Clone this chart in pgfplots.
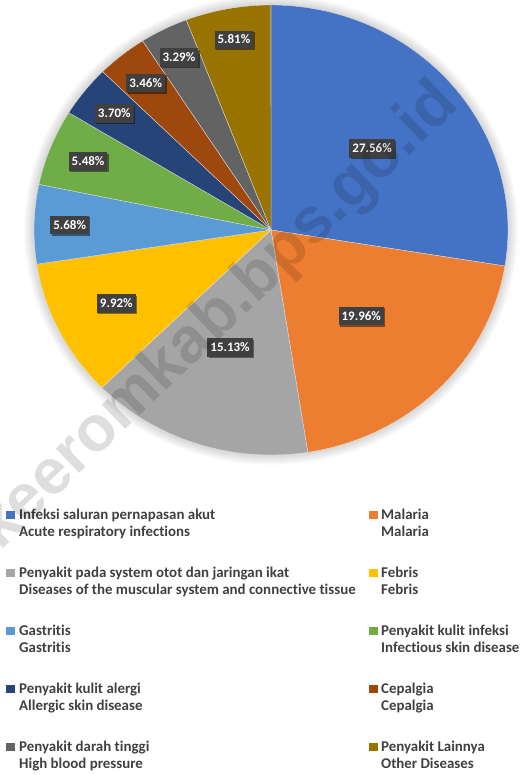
\documentclass[border=0pt]{standalone}
\usepackage{pgfplots}
\pgfplotsset{compat=1.18}
\usepackage{pgfplotstable}
\usepackage{fontspec}
\setmainfont{Carlito}[Ligatures=NoCommon]
\newfontfamily\wmfont{Liberation Sans}
\usetikzlibrary{shadows}

\definecolor{pie0}{HTML}{4472C4}
\definecolor{pie1}{HTML}{ED7D31}
\definecolor{pie2}{HTML}{A5A5A5}
\definecolor{pie3}{HTML}{FFC000}
\definecolor{pie4}{HTML}{5B9BD5}
\definecolor{pie5}{HTML}{70AD47}
\definecolor{pie6}{HTML}{264478}
\definecolor{pie7}{HTML}{9E480E}
\definecolor{pie8}{HTML}{636363}
\definecolor{pie9}{HTML}{997300}
\definecolor{labfill}{HTML}{404040}
\definecolor{legtext}{HTML}{404040}

% value (percent) and label distance from centre (fraction of radius)
\pgfplotstableread{
val r
27.56 0.56
19.96 0.54
15.13 0.55
9.92 0.73
5.68 0.85
5.48 0.83
3.70 0.84
3.46 0.84
3.29 0.86
5.81 0.86
}\piedata

\tikzset{
  datalab/.style={fill=labfill, text=white, font=\bfseries\fontsize{13}{15}\selectfont,
    inner xsep=3pt, inner ysep=5pt, text height=8.4pt, text depth=0pt,
    drop shadow={shadow xshift=1.5pt, shadow yshift=-1.5pt, opacity=0.45, fill=black}},
  legsq/.style={fill=#1, draw=none, minimum size=8.5pt, inner sep=0pt},
  legtx/.style={anchor=base west, inner sep=0pt, text=legtext, font=\bfseries\fontsize{14.9}{17}\selectfont},
}

\begin{document}
\begin{tikzpicture}[x=1pt,y=1pt]
\path[use as bounding box] (0,0) rectangle (528,775);
\begin{axis}[at={(271pt,545pt)}, anchor=center, width=474pt, height=450pt,
  scale only axis, xmin=-1, xmax=1, ymin=-1, ymax=1, hide axis, clip=false]
\addplot[draw=none] coordinates {(-1,-1) (1,1)};
% soft shadow around the pie
\pgfplotsforeachungrouped \k in {1,...,10}{%
  \pgfmathsetmacro\rxx{237+\k}%
  \pgfmathsetmacro\ryy{225+\k}%
  \edef\temp{\noexpand\fill[black, opacity=0.016] (axis cs:0,0) ellipse [x radius=\rxx pt, y radius=\ryy pt];}%
  \temp
}
% slices
\def\cum{0}
\pgfplotsforeachungrouped \i in {0,...,9}{%
  \pgfplotstablegetelem{\i}{val}\of\piedata \let\v\pgfplotsretval
  \pgfmathsetmacro\sa{90-3.6*\cum}%
  \pgfmathsetmacro\ea{90-3.6*(\cum+\v)}%
  \pgfmathsetmacro\newcum{\cum+\v}%
  \global\let\cum\newcum
  \edef\temp{\noexpand\fill[pie\i, draw=white!75!gray, line width=0.35pt] (axis cs:0,0) -- (axis cs:{cos(\sa)},{sin(\sa)}) arc [start angle=\sa, end angle=\ea, x radius=237pt, y radius=225pt] -- cycle;}%
  \temp
}
% data labels
\def\cum{0}
\pgfplotsforeachungrouped \i in {0,...,9}{%
  \pgfplotstablegetelem{\i}{val}\of\piedata \let\v\pgfplotsretval
  \pgfplotstablegetelem{\i}{r}\of\piedata \let\rr\pgfplotsretval
  \pgfmathsetmacro\ma{90-3.6*(\cum+\v/2)}%
  \pgfmathsetmacro\lx{\rr*cos(\ma)}%
  \pgfmathsetmacro\ly{\rr*sin(\ma)}%
  \pgfmathsetmacro\newcum{\cum+\v}%
  \global\let\cum\newcum
  \edef\temp{\noexpand\node[datalab] at (axis cs:\lx,\ly) {\v\noexpand\%};}%
  \temp
}
\end{axis}

% legend
\foreach \k/\c/\a/\b in {0/pie0/Infeksi saluran pernapasan akut/Acute respiratory infections,
  1/pie2/Penyakit pada system otot dan jaringan ikat/Diseases of the muscular system and connective tissue,
  2/pie4/Gastritis/Gastritis,
  3/pie6/Penyakit kulit alergi/Allergic skin disease,
  4/pie8/Penyakit darah tinggi/High blood pressure}{
  \node[legsq=\c] at (10.5,{260-58*\k}) {};
  \node[legtx] at (19,{255.5-58*\k}) {\a};
  \node[legtx] at (19,{238.3-58*\k}) {\b};
}
\foreach \k/\c/\a/\b in {0/pie1/Malaria/Malaria,
  1/pie3/Febris/Febris,
  2/pie5/Penyakit kulit infeksi/Infectious skin disease,
  3/pie7/Cepalgia/Cepalgia,
  4/pie9/Penyakit Lainnya/Other Diseases}{
  \node[legsq=\c] at (373.5,{260-58*\k}) {};
  \node[legtx] at (381,{255.5-58*\k}) {\a};
  \node[legtx] at (381,{238.3-58*\k}) {\b};
}

% watermark
\node[rotate=44, text=black, opacity=0.13, inner sep=0pt,
  font=\wmfont\bfseries\fontsize{64}{64}\selectfont] at (219,458) {keeromkab.bps.go.id};
\end{tikzpicture}
\end{document}
